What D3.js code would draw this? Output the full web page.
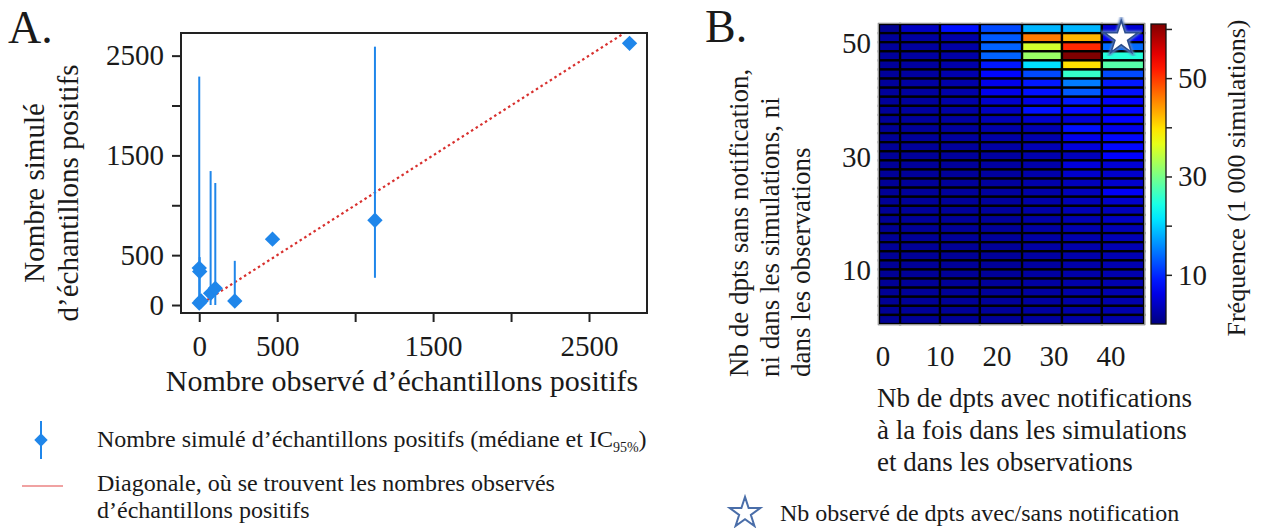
<!DOCTYPE html>
<html><head><meta charset="utf-8">
<script src="https://cdn.jsdelivr.net/npm/d3@7"></script>
<style>
body{margin:0;background:#fff}
svg{display:block}
text{font-family:"Liberation Serif","Times New Roman",Tinos,"DejaVu Serif","Noto Serif",FreeSerif,serif;fill:#1a1a1a}
</style>
</head><body>
<svg id="c" width="1261" height="528"></svg>
<script>
// ---------- Panel A data ----------
const observed  = [0, 3, 0, 12, 73, 103, 228, 470, 1127, 2760];
const simMedian = [370, 335, 20, 40, 117, 167, 40, 660, 850, 2623];
const simLow    = [15, 30, 0, 5, 0, 0, 20, 640, 273, 2600];
const simHigh   = [2290, 480, 60, 110, 1343, 1223, 443, 680, 2590, 2650];
const xTicksA = [0, 500, 1000, 1500, 2000, 2500];
const xLabelsA = [0, 500, 1500, 2500];
const yTicksA = [0, 500, 1000, 1500, 2000, 2500];
const yLabelsA = [0, 500, 1500, 2500];

// ---------- Panel B data ----------
const colEdges = [-0.7, 3, 10, 17, 24.4, 31.4, 38.4, 45.8]; // bins, x units
const rowRange = [0.47, 53.4];  // y units covered by the 33 rows
const col0 = [1.0,1.6,1.6,1.6,1.6,1.6,1.6,1.6,1.5,1.5,1.5,1.4,1.4,1.4,1.4,1.4,1.4,1.4,1.4,1.4,1.4,1.4,1.3,1.3,1.3,1.3,1.3,1.3,1.3,1.3,1.3,1.3,1.3];
const col1 = [4.0,2.0,1.9,2.0,1.9,1.8,2.0,1.8,1.7,1.8,1.7,1.6,1.6,1.6,1.5,1.6,1.5,1.5,1.5,1.5,1.5,1.5,1.4,1.4,1.4,1.4,1.4,1.4,1.4,1.4,1.4,1.4,1.4];
const col2 = [8.5,2.4,2.3,2.3,2.5,2.8,2.5,2.5,2.4,2.2,2.0,1.8,1.8,1.7,1.7,1.6,1.6,1.6,1.6,1.5,1.5,1.5,1.5,1.5,1.4,1.4,1.4,1.4,1.4,1.4,1.4,1.4,1.4];
const col3 = [12.0,13.0,13.5,13.5,9.0,8.0,6.5,6.5,4.5,3.8,3.2,2.6,2.4,2.2,2.0,2.0,1.9,1.8,1.8,1.7,1.7,1.6,1.6,1.6,1.5,1.5,1.5,1.5,1.5,1.5,1.5,1.5,1.5];
const col4 = [18.5,46.0,35.5,32.0,21.0,12.0,9.0,8.5,6.0,8.5,4.5,3.0,2.8,3.2,2.8,2.6,2.6,2.5,2.4,2.4,2.3,2.3,2.2,2.2,2.1,2.1,2.0,2.0,2.0,1.9,1.9,1.9,1.9];
const col5 = [18.5,42.5,51.0,61.0,40.0,26.0,15.0,13.0,9.0,8.0,5.0,8.5,6.5,5.5,3.5,5.5,4.5,3.5,3.5,3.3,3.2,3.0,2.9,2.8,2.7,2.6,2.5,2.5,2.4,2.4,2.3,2.3,2.3];
const col6 = [5.0,7.0,14.0,25.0,28.0,12.0,9.0,8.5,7.5,8.0,7.6,6.5,8.0,8.0,7.5,5.0,4.5,4.5,7.0,4.5,3.5,4.0,3.2,3.2,3.0,3.0,2.9,2.8,2.8,2.7,2.6,2.6,2.5];
const freqCols = [col0, col1, col2, col3, col4, col5, col6];
const xTicksB = [0, 10, 20, 30, 40];
const yTicksB = [10, 30, 50];
const cbTicks = [10, 20, 30, 40, 50, 60];
const cbLabels = [10, 30, 50];
const cbDomain = [0, 61];
const starObs = [41.8, 50.9];

const FONT = '"Liberation Serif","Times New Roman",Tinos,"DejaVu Serif","Noto Serif",FreeSerif,serif';
const svg = d3.select("#c");
const defs = svg.append("defs");

// jet colormap
function jet(t){
  t = Math.max(0, Math.min(1, t));
  const c = v => Math.max(0, Math.min(1, v));
  const r = c(1.5 - Math.abs(4*t - 3)), g = c(1.5 - Math.abs(4*t - 2)), b = c(1.5 - Math.abs(4*t - 1));
  return d3.rgb(r*255, g*255, b*255).toString();
}

// ================= Panel A =================
const xA = d3.scaleLinear().domain([-117, 2872]).range([181, 647]);
const yA = d3.scaleLinear().domain([-80, 2727]).range([313, 33]);
const gA = svg.append("g");

defs.append("clipPath").attr("id","clipA").append("rect")
  .attr("x", xA.range()[0]).attr("y", yA.range()[1])
  .attr("width", xA.range()[1]-xA.range()[0]).attr("height", yA.range()[0]-yA.range()[1]);

const xAxA = d3.axisBottom(xA).tickValues(xTicksA).tickSize(9).tickPadding(13)
  .tickFormat(d => xLabelsA.includes(d) ? d : "");
gA.append("g").attr("transform", `translate(0,${yA.range()[0]})`).call(xAxA)
  .call(g => g.select(".domain").remove())
  .call(g => g.selectAll("line").attr("stroke","#222").attr("stroke-width",2))
  .call(g => g.selectAll("text").attr("font-size",29).attr("font-family",FONT).attr("fill","#1a1a1a"));

const yAxA = d3.axisLeft(yA).tickValues(yTicksA).tickSize(9).tickPadding(8)
  .tickFormat(d => yLabelsA.includes(d) ? d : "");
gA.append("g").attr("transform", `translate(${xA.range()[0]},0)`).call(yAxA)
  .call(g => g.select(".domain").remove())
  .call(g => g.selectAll("line").attr("stroke","#222").attr("stroke-width",2))
  .call(g => g.selectAll("text").attr("font-size",29).attr("font-family",FONT).attr("fill","#1a1a1a"));

// diagonal
gA.append("line").attr("clip-path","url(#clipA)")
  .attr("x1", xA(20)).attr("y1", yA(20)).attr("x2", xA(2900)).attr("y2", yA(2900))
  .attr("stroke","#d8302e").attr("stroke-width",2.2).attr("stroke-dasharray","2.5,3");

const BLUE = "#1f86ea";
const ptsA = observed.map((o,i)=>({x:o, y:simMedian[i], lo:simLow[i], hi:simHigh[i]}));
gA.selectAll("line.err").data(ptsA).join("line").attr("class","err")
  .attr("x1", d=>xA(d.x)).attr("x2", d=>xA(d.x))
  .attr("y1", d=>yA(d.lo)).attr("y2", d=>yA(d.hi))
  .attr("stroke", BLUE).attr("stroke-width", 2);
const diamond = d3.symbol().type(d3.symbolSquare).size(118)();
gA.selectAll("path.pt").data(ptsA).join("path").attr("class","pt")
  .attr("d", diamond)
  .attr("transform", d=>`translate(${xA(d.x)},${yA(d.y)}) rotate(45)`)
  .attr("fill", BLUE);

// frame
gA.append("rect").attr("x", xA.range()[0]).attr("y", yA.range()[1])
  .attr("width", xA.range()[1]-xA.range()[0]).attr("height", yA.range()[0]-yA.range()[1])
  .attr("fill","none").attr("stroke","#222").attr("stroke-width",2);

// titles
svg.append("text").attr("x",8).attr("y",43).attr("font-size",46).text("A.");
svg.append("text").attr("x",(xA.range()[0]+xA.range()[1])/2 - 12).attr("y",391)
  .attr("text-anchor","middle").attr("font-size",30).text("Nombre observé d’échantillons positifs");
const yt = svg.append("g").attr("transform","translate(0,193)");
yt.append("text").attr("transform","translate(44,0) rotate(-90)").attr("text-anchor","middle")
  .attr("font-size",29).text("Nombre simulé");
yt.append("text").attr("transform","translate(78,0) rotate(-90)").attr("text-anchor","middle")
  .attr("font-size",29).text("d’échantillons positifs");

// legend A
const lg = svg.append("g");
lg.append("line").attr("x1",41).attr("x2",41).attr("y1",421).attr("y2",459).attr("stroke",BLUE).attr("stroke-width",2);
lg.append("path").attr("d", d3.symbol().type(d3.symbolSquare).size(90)()).attr("transform","translate(41,440) rotate(45)").attr("fill",BLUE);
const t1 = lg.append("text").attr("x",97).attr("y",447).attr("font-size",24);
t1.append("tspan").text("Nombre simulé d’échantillons positifs (médiane et IC");
t1.append("tspan").attr("font-size",14).attr("dy",5).text("95%");
t1.append("tspan").attr("dy",-5).text(")");
lg.append("line").attr("x1",22).attr("x2",63).attr("y1",486).attr("y2",486).attr("stroke","#f0a2a2").attr("stroke-width",2);
lg.append("text").attr("x",97).attr("y",491).attr("font-size",24).text("Diagonale, où se trouvent les nombres observés");
lg.append("text").attr("x",97).attr("y",518).attr("font-size",24).text("d’échantillons positifs");

// ================= Panel B =================
const xB = d3.scaleLinear().domain([0, 40]).range([883, 1111]);
const yB = d3.scaleLinear().domain([10, 50]).range([270, 43.3]);
const nRows = col0.length;
const rowBand = d3.scaleBand().domain(d3.range(nRows)).range([yB(rowRange[1]), yB(rowRange[0])]);
const cNorm = d3.scaleLinear().domain(cbDomain).range([0,1]);

const gB = svg.append("g");
const cells = [];
freqCols.forEach((col, c) => col.forEach((v, r) => cells.push({c, r, v})));
gB.selectAll("rect.cell").data(cells).join("rect").attr("class","cell")
  .attr("x", d => xB(colEdges[d.c]))
  .attr("width", d => xB(colEdges[d.c+1]) - xB(colEdges[d.c]))
  .attr("y", d => rowBand(d.r))
  .attr("height", rowBand.bandwidth())
  .attr("fill", d => jet(cNorm(d.v)))
  .attr("stroke", "#000").attr("stroke-width", 2.3);
gB.append("rect")
  .attr("x", xB(colEdges[0])-0.5).attr("y", yB(rowRange[1])-0.5)
  .attr("width", xB(colEdges[colEdges.length-1]) - xB(colEdges[0])+1)
  .attr("height", yB(rowRange[0]) - yB(rowRange[1])+1)
  .attr("fill","none").attr("stroke","#9a9a9a").attr("stroke-width",1);

// star
const starPath = d3.symbol().type(d3.symbolStar).size(340)();
defs.append("filter").attr("id","glow").append("feGaussianBlur").attr("stdDeviation",1.3);
gB.append("path").attr("d", starPath).attr("transform",`translate(${xB(starObs[0])},${yB(starObs[1])})`)
  .attr("fill","none").attr("stroke","#5b7fc0").attr("stroke-width",4).attr("filter","url(#glow)");
gB.append("path").attr("d", starPath).attr("transform",`translate(${xB(starObs[0])},${yB(starObs[1])})`)
  .attr("fill","#fff").attr("stroke","#2d4f8e").attr("stroke-width",1.6);

// B tick labels
gB.selectAll("text.xt").data(xTicksB).join("text").attr("class","xt")
  .attr("x", d=>xB(d)).attr("y",366).attr("text-anchor","middle").attr("font-size",29).text(d=>d);
gB.selectAll("text.yt").data(yTicksB).join("text").attr("class","yt")
  .attr("x", 871).attr("y", d=>yB(d)).attr("dy","0.35em").attr("text-anchor","end").attr("font-size",29).text(d=>d);

// colorbar
const cbX = 1151, cbW = 15;
const cbY = d3.scaleLinear().domain(cbDomain).range([yB(rowRange[0]), yB(rowRange[1])]);
const grad = defs.append("linearGradient").attr("id","jetg").attr("x1",0).attr("x2",0).attr("y1",1).attr("y2",0);
d3.range(0, 1.0001, 0.05).forEach(t => grad.append("stop").attr("offset", t).attr("stop-color", jet(t)));
gB.append("rect").attr("x",cbX).attr("width",cbW).attr("y",cbY.range()[1]).attr("height",cbY.range()[0]-cbY.range()[1])
  .attr("fill","url(#jetg)").attr("stroke","#111").attr("stroke-width",1.3);
gB.append("g").attr("transform",`translate(${cbX+cbW},0)`)
  .call(d3.axisRight(cbY).tickValues(cbTicks).tickSize(6).tickPadding(6).tickFormat(d=>cbLabels.includes(d)?d:""))
  .call(g => g.select(".domain").remove())
  .call(g => g.selectAll("line").attr("stroke","#222").attr("stroke-width",1.5))
  .call(g => g.selectAll("text").attr("font-size",29).attr("font-family",FONT).attr("fill","#1a1a1a"));
svg.append("text").attr("transform","translate(1245,178) rotate(-90)").attr("text-anchor","middle")
  .attr("font-size",26).text("Fréquence (1 000 simulations)");

// B titles
svg.append("text").attr("x",705).attr("y",42).attr("font-size",46).text("B.");
const yTitleB = ["Nb de dpts sans notification,", "ni dans les simulations, ni", "dans les observations"];
yTitleB.forEach((s,i)=> svg.append("text").attr("transform",`translate(${748+31*i},377) rotate(-90)`)
  .attr("font-size",27).text(s));
const xTitleB = ["Nb de dpts avec notifications", "à la fois dans les simulations", "et dans les observations"];
xTitleB.forEach((s,i)=> svg.append("text").attr("x",877).attr("y",407+32*i).attr("font-size",27).text(s));

// B legend
svg.append("path").attr("d", d3.symbol().type(d3.symbolStar).size(290)())
  .attr("transform","translate(745,513)").attr("fill","#fff").attr("stroke","#4a6ea9").attr("stroke-width",2);
svg.append("text").attr("x",780).attr("y",521).attr("font-size",24).text("Nb observé de dpts avec/sans notification");
</script>
</body></html>
